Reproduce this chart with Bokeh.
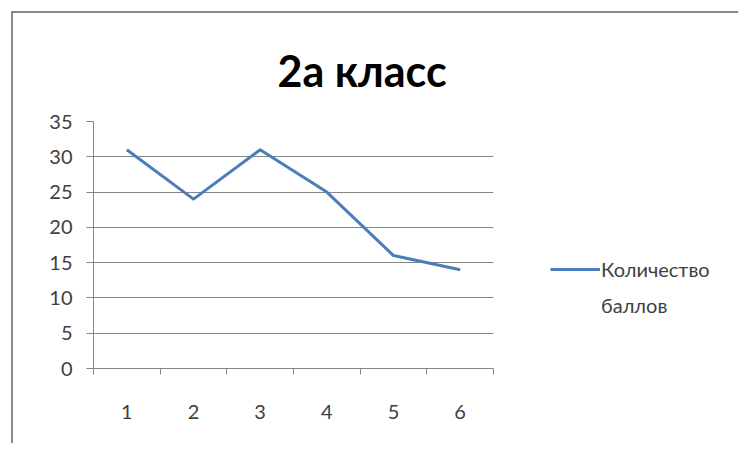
from bokeh.plotting import figure
from bokeh.models import FixedTicker, Range1d, Legend, LegendItem, Title
from bokeh.embed import file_html
from bokeh.resources import INLINE

categories = [1, 2, 3, 4, 5, 6]
scores = [31, 24, 31, 25, 16, 14]
y_ticks = [0, 5, 10, 15, 20, 25, 30, 35]
series_name_lines = ["Количество", "баллов"]
title_text = "2а класс"

FONT = "Lato"
GRAY = "#868686"

p = figure(width=720, height=430, output_backend="svg", toolbar_location=None,
           x_range=Range1d(0.5, 6.5), y_range=Range1d(0, 35),
           frame_width=400, frame_height=247,
           min_border_left=80, min_border_top=108,
           min_border_right=240, min_border_bottom=75,
           title=None)
p.styles = {"border-left": "2px solid #8a8a8a", "border-top": "2px solid #8a8a8a",
            "transform": "translate(11px, 11px)"}
p.outline_line_color = None
p.background_fill_color = "white"
p.border_fill_color = "white"

t = Title(text=title_text, align="left", offset=184, text_font=FONT, text_font_size="43px",
          text_font_style="bold", text_color="#000000", standoff=52)
p.add_layout(t, "above")

r = p.line(categories, scores, line_color="#4A7EBB", line_width=3, line_join="round")
r_blank = p.line([], [], line_alpha=0)

# x axis
p.xaxis.ticker = FixedTicker(ticks=categories, minor_ticks=[0.5, 1.5, 2.5, 3.5, 4.5, 5.5, 6.5])
p.xaxis.major_tick_line_color = None
p.xaxis.minor_tick_line_color = GRAY
p.xaxis.minor_tick_out = 6
p.xaxis.minor_tick_in = 0
p.xaxis.axis_line_color = GRAY
p.xaxis.major_label_standoff = 30
p.xaxis.major_label_text_font = FONT
p.xaxis.major_label_text_font_size = "20px"
p.xaxis.major_label_text_color = "#404040"

# y axis
p.yaxis.ticker = FixedTicker(ticks=y_ticks, minor_ticks=[])
p.yaxis.major_tick_line_color = GRAY
p.yaxis.major_tick_out = 7
p.yaxis.major_tick_in = 0
p.yaxis.axis_line_color = GRAY
p.yaxis.major_label_standoff = 14
p.yaxis.major_label_text_font = FONT
p.yaxis.major_label_text_font_size = "20px"
p.yaxis.major_label_text_color = "#404040"

p.xgrid.grid_line_color = None
p.ygrid.ticker = FixedTicker(ticks=y_ticks)
p.ygrid.grid_line_color = GRAY
p.ygrid.grid_line_width = 1

legend = Legend(items=[LegendItem(label=series_name_lines[0], renderers=[r]),
                       LegendItem(label=series_name_lines[1], renderers=[r_blank])],
                location=(57, 51), glyph_width=50, label_standoff=1,
                padding=0, margin=0, border_line_color=None,
                background_fill_alpha=0, label_text_font=FONT,
                label_text_font_size="20px", label_text_color="#404040",
                glyph_height=20, spacing=12)
p.add_layout(legend, "right")

open("out.html", "w").write(file_html(p, INLINE))
